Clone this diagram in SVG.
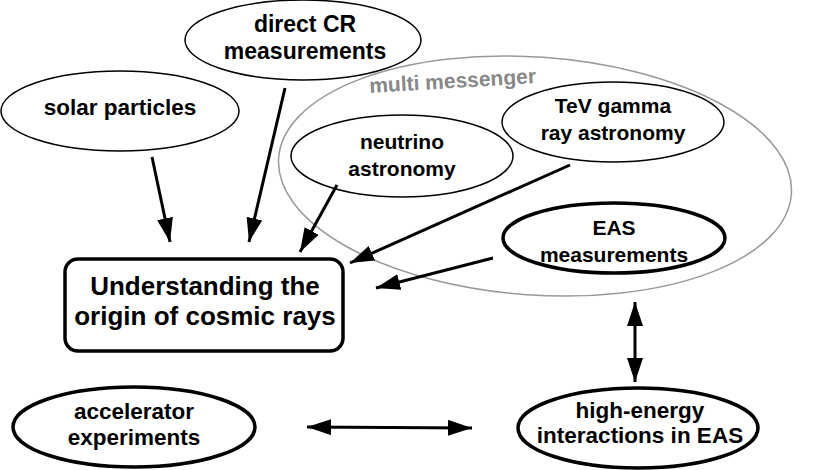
<svg xmlns="http://www.w3.org/2000/svg" width="830" height="470" viewBox="0 0 830 470">
<style>
text{font-family:"Liberation Sans",Arial,sans-serif;font-weight:bold;fill:#000;text-anchor:middle}
.n{fill:#fff;stroke:#000;stroke-width:1.5}
.t{fill:#fff;stroke:#000;stroke-width:3.5}
.c{stroke:#000;stroke-width:3;fill:none}
</style>
<defs>
<marker id="ah" markerUnits="userSpaceOnUse" markerWidth="26" markerHeight="18" refX="24" refY="8" orient="auto-start-reverse" viewBox="0 0 26 18">
<path d="M0,0 L24,8 L0,16 Z" fill="#000"/>
</marker>
</defs>
<rect width="830" height="470" fill="#fff"/>
<g id="multi-messenger">
<ellipse cx="535" cy="176" rx="257" ry="119" transform="rotate(4 535 176)" fill="none" stroke="#999" stroke-width="1.5"/>
<text x="453" y="88" font-size="21" transform="rotate(-3.4 453 88)" style="fill:#888">multi messenger</text>
</g>
<g id="solar">
<ellipse class="n" cx="120" cy="111" rx="119" ry="40"/>
<text x="120" y="115" font-size="22.5">solar particles</text>
</g>
<g id="direct">
<ellipse class="n" cx="303" cy="40" rx="118" ry="40"/>
<text x="305" y="32" font-size="23">direct CR</text>
<text x="305" y="59" font-size="23">measurements</text>
</g>
<g id="neutrino">
<ellipse class="n" cx="402" cy="156" rx="111" ry="41"/>
<text x="402" y="149" font-size="21">neutrino</text>
<text x="402" y="176" font-size="21">astronomy</text>
</g>
<g id="tev">
<ellipse class="n" cx="613" cy="122" rx="111" ry="40"/>
<text x="613" y="113" font-size="21">TeV gamma</text>
<text x="613" y="140" font-size="21">ray astronomy</text>
</g>
<g id="eas">
<ellipse class="t" cx="614" cy="238" rx="111" ry="35"/>
<text x="614" y="235" font-size="21">EAS</text>
<text x="614" y="262" font-size="21">measurements</text>
</g>
<g id="understanding">
<rect x="65" y="259" width="278" height="92" rx="13" fill="#fff" stroke="#000" stroke-width="3.5"/>
<text x="205" y="295" font-size="26">Understanding the</text>
<text x="205" y="325" font-size="26">origin of cosmic rays</text>
</g>
<g id="accelerator">
<ellipse class="t" cx="134" cy="427" rx="121" ry="40"/>
<text x="134" y="419" font-size="22.5">accelerator</text>
<text x="134" y="445" font-size="22.5">experiments</text>
</g>
<g id="high-energy">
<ellipse class="t" cx="638" cy="428" rx="120" ry="40"/>
<text x="640" y="418" font-size="22.5">high-energy</text>
<text x="640" y="443" font-size="22.5">interactions in EAS</text>
</g>
<g id="connectors">
<line class="c" x1="152" y1="157" x2="170" y2="242" marker-end="url(#ah)"/>
<line class="c" x1="285" y1="88" x2="249" y2="242" marker-end="url(#ah)"/>
<line class="c" x1="337" y1="185" x2="300" y2="252" marker-end="url(#ah)"/>
<line class="c" x1="570" y1="165" x2="350" y2="263" marker-end="url(#ah)"/>
<line class="c" x1="493" y1="258" x2="376" y2="288" marker-end="url(#ah)"/>
<line class="c" x1="635" y1="302" x2="635" y2="382" marker-start="url(#ah)" marker-end="url(#ah)"/>
<line class="c" x1="307" y1="427" x2="472" y2="428" marker-start="url(#ah)" marker-end="url(#ah)"/>
</g>
</svg>
